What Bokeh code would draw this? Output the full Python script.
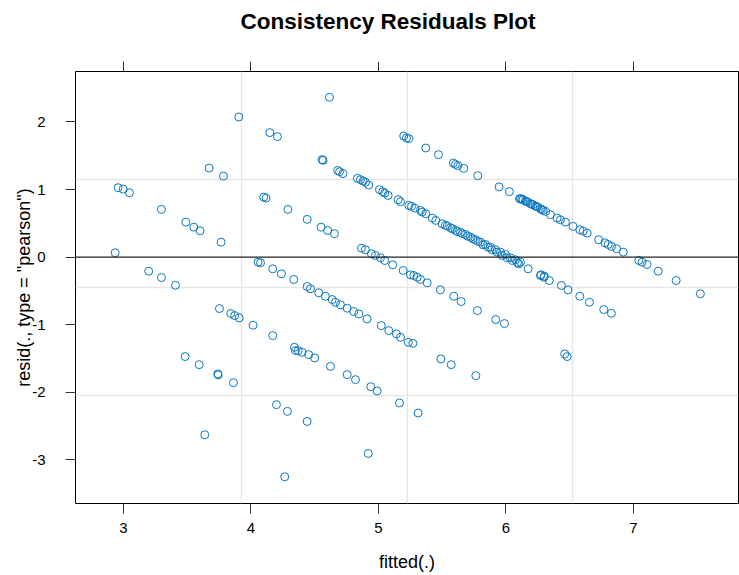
from bokeh.plotting import figure
from bokeh.models import Range1d, FixedTicker, LinearAxis, Span
from bokeh.embed import file_html
from bokeh.resources import INLINE

title_text = "Consistency Residuals Plot"
x_label = "fitted(.)"
y_label = 'resid(., type = "pearson")'
x_ticks = [3, 4, 5, 6, 7]
y_ticks = [-3, -2, -1, 0, 1, 2]
y_tick_labels = {-3: "-3", -2: "-2", -1: "-1", 0: "0", 1: "1", 2: "2"}

fitted = [
    3.905, 4.148, 4.208, 3.672, 3.784, 2.958, 2.998, 3.047, 3.298, 4.100, 4.118, 4.290,
    3.489, 3.552, 3.601, 3.766, 2.935, 4.056, 4.075, 4.171, 4.239, 4.336, 3.198, 3.298,
    3.408, 3.753, 3.842, 3.873, 3.908, 4.017, 4.171, 4.341, 4.370, 3.484, 3.594, 3.740,
    3.743, 3.863, 4.200, 4.286, 3.638, 4.265,
    4.616, 4.558, 4.566, 5.198, 5.220, 5.238, 5.371, 5.471, 5.588, 5.604, 5.622, 5.669,
    5.779, 5.946, 6.027, 6.106,
    4.680, 4.695, 4.722, 4.835, 4.859, 4.880, 4.898, 4.924, 5.008, 5.034, 5.049, 5.076,
    5.154, 5.173, 5.238, 5.259, 5.285, 5.330,
    5.343, 5.371, 5.423, 5.450, 5.500, 5.526, 5.565, 5.604, 5.643, 5.682, 5.722, 5.761,
    5.800, 5.839, 5.878, 5.918, 5.957, 5.996, 6.035, 6.075, 6.114, 6.174, 6.271, 6.298,
    5.540, 5.580, 5.620, 5.660, 5.700, 5.740, 5.780, 5.820, 5.860, 5.890, 5.930, 5.970,
    6.010, 6.050, 6.090,
    6.101, 6.275, 6.301, 6.340, 6.435, 6.487, 6.579, 6.655, 6.767, 6.827,
    4.441, 4.550, 4.602, 4.655, 4.867, 4.898, 4.945, 4.976, 5.016, 5.049, 5.112,
    5.194, 5.251, 5.277, 5.304, 5.330, 5.382, 5.486, 5.591, 5.649, 5.776, 5.920, 5.988,
    4.441, 4.467, 4.532, 4.584, 4.637, 4.663, 4.702, 4.755, 4.806, 4.846, 4.911,
    5.022, 5.081, 5.141, 5.173, 5.234, 5.270,
    4.349, 4.401, 4.453, 4.500,
    4.624, 4.755, 4.820, 4.940, 4.990, 5.165, 5.311, 4.441, 4.920, 5.490, 5.571, 5.764,
    6.114, 6.135, 6.153, 6.171, 6.192, 6.213, 6.231, 6.249, 6.271, 6.292, 6.312,
    6.125, 6.160, 6.200, 6.240, 6.280,
    6.349, 6.401, 6.427, 6.467, 6.527, 6.579, 6.606, 6.637, 6.727, 6.776, 6.802, 6.829,
    6.868, 6.920,
    7.042, 7.068, 7.107, 7.194, 7.335, 7.525,
    6.461, 6.480,
]

resid = [
    2.074, 1.843, 1.784, 1.319, 1.200, 1.028, 1.007, 0.954, 0.707, 0.889, 0.874, 0.707,
    0.519, 0.444, 0.391, 0.222, 0.065, -0.074, -0.083, -0.172, -0.246, -0.330, -0.207, -0.301,
    -0.415, -0.760, -0.834, -0.864, -0.898, -1.007, -1.160, -1.333, -1.382, -1.470, -1.590, -1.727,
    -1.742, -1.856, -2.182, -2.281, -2.627, -3.249,
    2.366, 1.443, 1.433, 1.793, 1.763, 1.754, 1.615, 1.517, 1.393, 1.373, 1.354, 1.314,
    1.206, 1.040, 0.969, 0.865,
    1.284, 1.265, 1.236, 1.166, 1.147, 1.126, 1.107, 1.067, 0.999, 0.969, 0.948, 0.914,
    0.850, 0.821, 0.766, 0.751, 0.726, 0.692,
    0.667, 0.643, 0.578, 0.544, 0.494, 0.470, 0.436, 0.396, 0.366, 0.336, 0.296, 0.258,
    0.222, 0.188, 0.148, 0.110, 0.074, 0.040, -0.009, -0.039, -0.074, -0.172, -0.271, -0.296,
    0.459, 0.420, 0.380, 0.347, 0.311, 0.272, 0.233, 0.183, 0.148, 0.110, 0.074, 0.025,
    -0.010, -0.049, -0.083,
    -0.098, -0.261, -0.281, -0.345, -0.419, -0.483, -0.578, -0.667, -0.775, -0.830,
    0.559, 0.444, 0.395, 0.347, 0.133, 0.110, 0.050, 0.025, -0.009, -0.049, -0.113,
    -0.197, -0.261, -0.271, -0.296, -0.330, -0.379, -0.483, -0.578, -0.656, -0.790, -0.923, -0.982,
    -0.434, -0.468, -0.527, -0.578, -0.627, -0.667, -0.705, -0.755, -0.804, -0.839, -0.913,
    -1.012, -1.086, -1.135, -1.185, -1.259, -1.275,
    -1.382, -1.407, -1.441, -1.490,
    -1.615, -1.738, -1.812, -1.916, -1.979, -2.157, -2.305, -2.430, -2.904, -1.505, -1.590, -1.753,
    0.865, 0.850, 0.830, 0.815, 0.791, 0.776, 0.756, 0.741, 0.717, 0.692, 0.677,
    0.860, 0.825, 0.785, 0.750, 0.705,
    0.628, 0.578, 0.554, 0.519, 0.455, 0.406, 0.385, 0.356, 0.258, 0.213, 0.188, 0.159,
    0.124, 0.074,
    -0.049, -0.074, -0.108, -0.207, -0.345, -0.542,
    -1.431, -1.470,
]

X0, X1 = 2.624, 7.824
Y0, Y1 = -3.644, 2.747
FONT = "Liberation Sans"
POINT_COLOR = "#0a78c0"

p = figure(width=739, height=575, output_backend="svg", toolbar_location=None,
           x_range=Range1d(X0, X1), y_range=Range1d(Y0, Y1),
           min_border_left=75, min_border_right=1, min_border_top=71, min_border_bottom=72)

p.title.text = title_text
p.title.align = "left"
p.title.offset = 165
p.title.standoff = 4
p.title.text_font = FONT
p.title.text_font_size = "22.5px"
p.title.text_font_style = "bold"
p.title.text_color = "black"

p.outline_line_color = "black"
p.outline_line_width = 1
p.background_fill_color = "white"
p.border_fill_color = "white"

for ax in p.xaxis + p.yaxis:
    ax.axis_line_color = None
    ax.major_tick_out = 10
    ax.major_tick_in = 0
    ax.minor_tick_line_color = None
    ax.major_tick_line_color = "#333333"
    ax.major_label_text_font = FONT
    ax.major_label_text_font_size = "15px"
    ax.major_label_text_color = "black"
    ax.axis_label_text_font = FONT
    ax.axis_label_text_font_size = "18px"
    ax.axis_label_text_font_style = "normal"
    ax.axis_label_text_color = "black"

p.xaxis.ticker = FixedTicker(ticks=x_ticks)
p.yaxis.ticker = FixedTicker(ticks=y_ticks)
p.yaxis.major_label_overrides = y_tick_labels
p.xaxis.axis_label = x_label
p.yaxis.axis_label = y_label
p.xaxis.major_label_standoff = 9
p.yaxis.major_label_standoff = 20
p.xaxis.axis_label_standoff = 16
p.yaxis.axis_label_standoff = -5
p.yaxis.major_label_orientation = "horizontal"

top = LinearAxis(ticker=FixedTicker(ticks=x_ticks), axis_line_color=None,
                 major_tick_out=10, major_tick_in=0, minor_tick_line_color=None,
                 major_tick_line_color="#333333", major_label_text_color=None,
                 major_label_text_font_size="1px")
p.add_layout(top, "above")

spacer = LinearAxis(ticker=FixedTicker(ticks=[5]), axis_line_color=None,
                    major_tick_out=26, major_tick_in=0, minor_tick_line_color=None,
                    major_tick_line_color="white", major_label_text_color=None,
                    major_label_text_font_size="1px")
p.add_layout(spacer, "above")

p.xgrid.ticker = FixedTicker(ticks=[X0 + k * (X1 - X0) / 4 for k in (1, 2, 3)])
p.ygrid.ticker = FixedTicker(ticks=[Y0 + k * (Y1 - Y0) / 4 for k in (1, 2, 3)])
p.grid.grid_line_color = "#e6e6e6"
p.grid.grid_line_width = 1.3

p.add_layout(Span(location=0, dimension="width", line_color="#222222", line_width=1.3))

p.scatter(fitted, resid, marker="circle", size=8, fill_color=None,
          line_color=POINT_COLOR, line_width=1)

open("out.html", "w").write(file_html(p, INLINE))
